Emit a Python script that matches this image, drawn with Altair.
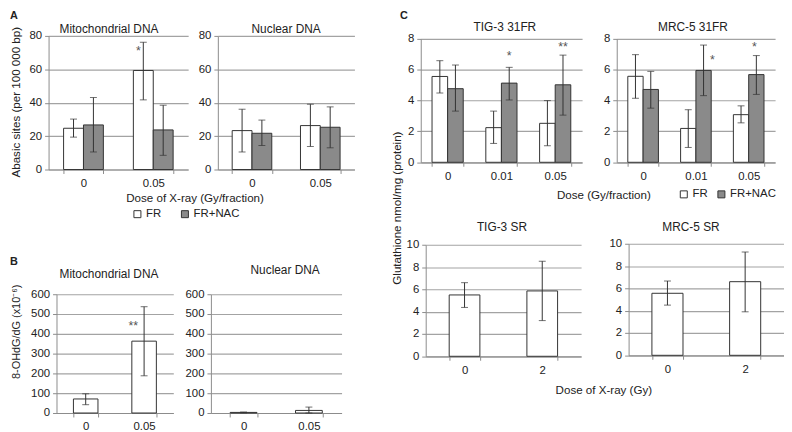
import altair as alt
import pandas as pd

# ---------------- data ----------------
series = ["FR", "FR+NAC"]

doses_A = ["0", "0.05"]
A_mito_FR = [24.7, 59.3]
A_mito_FR_lo = [19.4, 41.7]
A_mito_FR_hi = [30.2, 76.2]
A_mito_NAC = [26.7, 23.7]
A_mito_NAC_lo = [10.5, 8.5]
A_mito_NAC_hi = [43.1, 38.5]

A_nuc_FR = [23.3, 26.3]
A_nuc_FR_lo = [10.5, 13.8]
A_nuc_FR_hi = [36.1, 39.1]
A_nuc_NAC = [21.7, 25.3]
A_nuc_NAC_lo = [14.4, 13.0]
A_nuc_NAC_hi = [29.6, 37.5]

B_mito = [71, 363]
B_mito_lo = [42, 188]
B_mito_hi = [97, 537]
B_nuc = [3, 13]
B_nuc_lo = [1, 0]
B_nuc_hi = [5, 30]

doses_C = ["0", "0.01", "0.05"]
TIG_FR = [5.55, 2.24, 2.52]
TIG_FR_lo = [4.48, 1.22, 1.07]
TIG_FR_hi = [6.57, 3.31, 3.99]
TIG_NAC = [4.76, 5.12, 5.01]
TIG_NAC_lo = [3.31, 4.03, 3.05]
TIG_NAC_hi = [6.29, 6.14, 6.93]

MRC_FR = [5.56, 2.19, 3.08]
MRC_FR_lo = [4.14, 0.96, 2.55]
MRC_FR_hi = [6.96, 3.40, 3.65]
MRC_NAC = [4.71, 5.94, 5.67]
MRC_NAC_lo = [3.50, 4.31, 4.39]
MRC_NAC_hi = [5.88, 7.58, 6.90]

doses_SR = ["0", "2"]
TIG_SR = [5.50, 5.86]
TIG_SR_lo = [4.38, 3.20]
TIG_SR_hi = [6.60, 8.52]
MRC_SR = [5.56, 6.60]
MRC_SR_lo = [4.50, 3.90]
MRC_SR_hi = [6.66, 9.26]

ticks_A = [0, 20, 40, 60, 80]
ticks_B = [0, 100, 200, 300, 400, 500, 600]
ticks_C = [0, 2, 4, 6, 8]
ticks_SR = [0, 2, 4, 6, 8, 10]

# ---------------- style ----------------
W, H = 784, 424
FONT = "Liberation Sans"
TXT = "#222222"
GRID = "#a3a3a3"
AXC = "#8c8c8c"
EDGE = "#333333"
GRAY = "#8a8a8a"
TICKFS = 11.5


def x_axis(bottom):
    return alt.Axis(orient="bottom", offset=bottom - H, title=None, labelAngle=0,
                    tickBand="extent", tickSize=4, labelPadding=4, grid=False,
                    domainColor=AXC, tickColor=AXC, labelColor=TXT, labelFontSize=TICKFS)


def y_axis(left, vals):
    return alt.Axis(orient="left", offset=-left, title=None, values=vals, grid=True,
                    gridColor=GRID, gridWidth=1.2, tickSize=4, labelPadding=3,
                    domainColor=AXC, tickColor=AXC, labelColor=TXT, labelFontSize=TICKFS)


def grouped_panel(cats, fr, fr_lo, fr_hi, nac, nac_lo, nac_hi, xr, yr, ydom, yvals, pi,
                  legend=None, stars=()):
    df = pd.DataFrame({
        "dose": cats * 2,
        "series": [series[0]] * len(cats) + [series[1]] * len(cats),
        "v": fr + nac, "lo": fr_lo + nac_lo, "hi": fr_hi + nac_hi,
    })
    xs = alt.Scale(range=xr, paddingInner=pi, paddingOuter=pi / 2)
    ys = alt.Scale(domain=ydom, range=yr, nice=False, zero=True)
    xo = alt.XOffset("series:N", sort=series, scale=alt.Scale(paddingInner=0, paddingOuter=0))
    X = alt.X("dose:N", sort=cats, scale=xs, axis=x_axis(yr[0]))
    base = alt.Chart(df)
    bars = base.mark_bar(stroke=EDGE, strokeWidth=1).encode(
        x=X, xOffset=xo,
        y=alt.Y("v:Q", scale=ys, axis=y_axis(xr[0], yvals)),
        fill=alt.Fill("series:N", sort=series,
                      scale=alt.Scale(domain=series, range=["white", GRAY]), legend=legend),
    )
    rules = base.mark_rule(color=EDGE, strokeWidth=1).encode(
        x=X, xOffset=xo, y=alt.Y("lo:Q", scale=ys), y2="hi:Q")
    caps_lo = base.mark_tick(color=EDGE, size=7, thickness=1).encode(
        x=X, xOffset=xo, y=alt.Y("lo:Q", scale=ys))
    caps_hi = base.mark_tick(color=EDGE, size=7, thickness=1).encode(
        x=X, xOffset=xo, y=alt.Y("hi:Q", scale=ys))
    layers = [bars, rules, caps_lo, caps_hi]
    for (dose, ser, yv, txt, dx) in stars:
        sdf = pd.DataFrame({"dose": [dose], "series": [ser], "v": [yv], "t": [txt]})
        layers.append(alt.Chart(sdf).mark_text(dx=dx, baseline="middle", fontSize=12.5,
                                               color="#555555").encode(
            x=X, xOffset=xo, y=alt.Y("v:Q", scale=ys), text="t:N"))
    return alt.layer(*layers)


def single_panel(cats, v, lo, hi, xr, yr, ydom, yvals, pi, stars=()):
    df = pd.DataFrame({"dose": cats, "v": v, "lo": lo, "hi": hi})
    xs = alt.Scale(range=xr, paddingInner=pi, paddingOuter=pi / 2)
    ys = alt.Scale(domain=ydom, range=yr, nice=False, zero=True)
    X = alt.X("dose:N", sort=cats, scale=xs, axis=x_axis(yr[0]))
    base = alt.Chart(df)
    bars = base.mark_bar(stroke=EDGE, strokeWidth=1, fill="white").encode(
        x=X, y=alt.Y("v:Q", scale=ys, axis=y_axis(xr[0], yvals)))
    rules = base.mark_rule(color=EDGE, strokeWidth=1).encode(
        x=X, y=alt.Y("lo:Q", scale=ys), y2="hi:Q")
    caps_lo = base.mark_tick(color=EDGE, size=7, thickness=1).encode(
        x=X, y=alt.Y("lo:Q", scale=ys))
    caps_hi = base.mark_tick(color=EDGE, size=7, thickness=1).encode(
        x=X, y=alt.Y("hi:Q", scale=ys))
    layers = [bars, rules, caps_lo, caps_hi]
    for (dose, yv, txt, dx) in stars:
        sdf = pd.DataFrame({"dose": [dose], "v": [yv], "t": [txt]})
        layers.append(alt.Chart(sdf).mark_text(dx=dx, baseline="middle", fontSize=12.5,
                                               color="#555555").encode(
            x=X, y=alt.Y("v:Q", scale=ys), text="t:N"))
    return alt.layer(*layers)


def legend_at(x, y, gap):
    return alt.Legend(orient="none", legendX=x, legendY=y, direction="horizontal", title=None,
                      symbolType="square", symbolSize=50, symbolStrokeColor=EDGE,
                      symbolStrokeWidth=1, labelFontSize=TICKFS, labelColor=TXT,
                      columnPadding=gap, labelOffset=3, padding=0)


def label(text, x, y, size=12, angle=0, bold=False, align="center", baseline="middle"):
    return alt.Chart(pd.DataFrame({"t": [text]})).mark_text(
        fontSize=size, angle=angle, fontWeight="bold" if bold else "normal",
        align=align, baseline=baseline, color=TXT).encode(
        x=alt.value(x), y=alt.value(y), text="t:N")


# ---------------- panels ----------------
pA1 = grouped_panel(doses_A, A_mito_FR, A_mito_FR_lo, A_mito_FR_hi,
                    A_mito_NAC, A_mito_NAC_lo, A_mito_NAC_hi,
                    [41, 182], [161, 26], [0, 80], ticks_A, 0.43,
                    legend=legend_at(125, 200, 18),
                    stars=[("0.05", "FR", 70.7, "*", -5)])
pA2 = grouped_panel(doses_A, A_nuc_FR, A_nuc_FR_lo, A_nuc_FR_hi,
                    A_nuc_NAC, A_nuc_NAC_lo, A_nuc_NAC_hi,
                    [212, 350], [161, 26], [0, 80], ticks_A, 0.42)
pB1 = single_panel(doses_A, B_mito, B_mito_lo, B_mito_hi,
                   [49, 167], [407, 287], [0, 600], ticks_B, 0.58,
                   stars=[("0.05", 441, "**", -11)])
pB2 = single_panel(doses_A, B_nuc, B_nuc_lo, B_nuc_hi,
                   [205, 337], [407, 287], [0, 600], ticks_B, 0.59)
pC1 = grouped_panel(doses_C, TIG_FR, TIG_FR_lo, TIG_FR_hi,
                    TIG_NAC, TIG_NAC_lo, TIG_NAC_hi,
                    [417, 580], [153.7, 28.7], [0, 8], ticks_C, 0.42,
                    legend=legend_at(677, 180, 8),
                    stars=[("0.01", "FR+NAC", 6.85, "*", 0), ("0.05", "FR+NAC", 7.45, "**", 0)])
pC2 = grouped_panel(doses_C, MRC_FR, MRC_FR_lo, MRC_FR_hi,
                    MRC_NAC, MRC_NAC_lo, MRC_NAC_hi,
                    [615, 775], [153.7, 28.7], [0, 8], ticks_C, 0.42,
                    stars=[("0.01", "FR+NAC", 6.6, "*", 9), ("0.05", "FR+NAC", 7.45, "*", -2)])
pC3 = single_panel(doses_SR, TIG_SR, TIG_SR_lo, TIG_SR_hi,
                   [422, 579], [349.7, 237], [0, 10], ticks_SR, 0.605)
pC4 = single_panel(doses_SR, MRC_SR, MRC_SR_lo, MRC_SR_hi,
                   [627, 784], [348.7, 236], [0, 10], ticks_SR, 0.6)

texts = [
    label("A", 2, 0, size=11, bold=True, align="left", baseline="top"),
    label("B", 2, 254, size=11, bold=True, align="left"),
    label("C", 396, 0, size=11, bold=True, align="left", baseline="top"),
    label("Mitochondrial DNA", 102, 19),
    label("Nuclear DNA", 281, 19),
    label("Mitochondrial DNA", 102, 267),
    label("Nuclear DNA", 280, 263),
    label("TIG-3 31FR", 502, 17),
    label("MRC-5 31FR", 692, 17),
    label("TIG-3  SR", 499, 219),
    label("MRC-5  SR", 690, 219),
    label("Dose of X-ray (Gy/fraction)", 189, 190, size=11.7),
    label("Dose (Gy/fraction)", 602, 187, size=11.7),
    label("Dose of X-ray (Gy)", 602, 384, size=11.7),
    label("Abasic sites (per 100 000 bp)", 8, 93, size=11.7, angle=270),
    label("8-OHdG/dG (x10\u207b\u2076)", 9, 325, size=11, angle=270),
    label("Glutathione  nmol/mg (protein)", 393, 200, size=11.7, angle=270),
]

chart = alt.layer(pA1, pA2, pB1, pB2, pC1, pC2, pC3, pC4, *texts).resolve_scale(
    x="independent", y="independent", xOffset="independent", fill="independent"
).properties(
    width=W, height=H, autosize=alt.AutoSizeParams(type="none"), padding=0
).configure(font=FONT).configure_view(stroke=None)

chart.save("out.html", embed_options={"renderer": "svg", "actions": False})
